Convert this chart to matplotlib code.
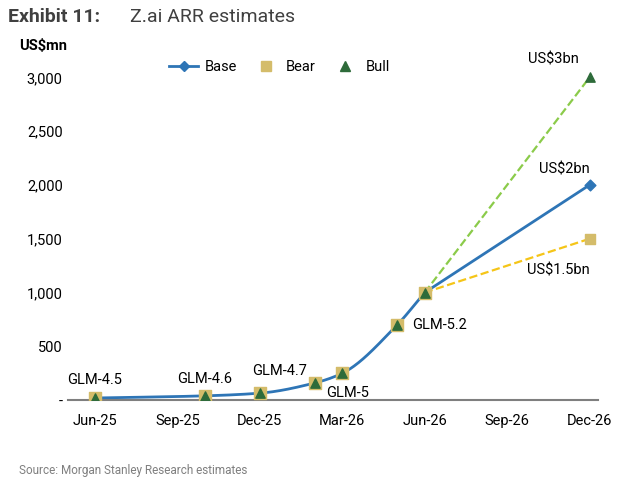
import numpy as np
import matplotlib
matplotlib.use("Agg")
import matplotlib.pyplot as plt
from matplotlib.lines import Line2D

plt.rcParams['font.family'] = ['Roboto', 'DejaVu Sans']

months = [0, 4, 6, 8, 9, 11, 12]   # months since Jun-25
hist = [20, 40, 65, 160, 250, 700, 1000]
labels = ["GLM-4.5", "GLM-4.6", "GLM-4.7", "", "GLM-5", "GLM-5.2", ""]
end_month = 18
base_end, bear_end, bull_end = 2000, 1500, 3000
tick_pos = [0, 3, 6, 9, 12, 15, 18]
tick_labels = ["Jun-25", "Sep-25", "Dec-25", "Mar-26", "Jun-26", "Sep-26", "Dec-26"]

def pchip(x, y, xs):
    x = np.asarray(x, float); y = np.asarray(y, float)
    h = np.diff(x); d = np.diff(y) / h
    m = np.zeros_like(y)
    for k in range(1, len(x) - 1):
        if d[k-1] * d[k] > 0:
            w1 = 2*h[k] + h[k-1]; w2 = h[k] + 2*h[k-1]
            m[k] = (w1 + w2) / (w1/d[k-1] + w2/d[k])
    m[0] = d[0]; m[-1] = d[-1]
    out = np.empty_like(xs)
    for i, xv in enumerate(xs):
        k = min(np.searchsorted(x, xv, side='right') - 1, len(x) - 2)
        t = (xv - x[k]) / h[k]
        h00 = 2*t**3 - 3*t**2 + 1; h10 = t**3 - 2*t**2 + t
        h01 = -2*t**3 + 3*t**2; h11 = t**3 - t**2
        out[i] = h00*y[k] + h10*h[k]*m[k] + h01*y[k+1] + h11*h[k]*m[k+1]
    return out

fig, ax = plt.subplots(figsize=(6.4, 4.94), dpi=100)
fig.subplots_adjust(left=0.1055, right=0.934, top=0.865, bottom=0.19)

blue = "#2E75B6"; tan = "#D4BC6A"; green = "#2E6B3A"
xs = np.linspace(0, 12, 300)
ax.plot(xs, pchip(months, hist, xs), color=blue, lw=2, zorder=2)
ax.plot([12, end_month], [hist[-1], base_end], color=blue, lw=2, zorder=2)
ax.plot([12, end_month], [hist[-1], bear_end], color="#F5C518", lw=1.6, ls="--", zorder=1)
ax.plot([12, end_month], [hist[-1], bull_end], color="#8BCB4A", lw=1.6, ls="--", zorder=1)

ax.scatter(months, hist, marker='s', s=70, color=tan, zorder=3)
ax.scatter(months, hist, marker='^', s=45, color=green, zorder=4)
ax.scatter([end_month], [base_end], marker='D', s=30, color=blue, zorder=4)
ax.scatter([end_month], [bear_end], marker='s', s=55, color=tan, zorder=4)
ax.scatter([end_month], [bull_end], marker='^', s=45, color=green, zorder=4)

offs = {"GLM-4.5": (0, 13, 'center'), "GLM-4.6": (0, 12, 'center'), "GLM-4.7": (0.7, 16, 'center'),
        "GLM-5": (0.2, -14, 'center'), "GLM-5.2": (0.55, 0, 'left')}
for mx, v, lab in zip(months, hist, labels):
    if lab:
        dx, dy, ha = offs[lab]
        ax.annotate(lab, (mx + dx, v), xytext=(0, dy), textcoords='offset points',
                    ha=ha, va='center', fontsize=10.5)
ax.annotate("US$3bn", (end_month, bull_end), xytext=(-8, 8), textcoords='offset points',
            ha='right', va='bottom', fontsize=10.5)
ax.annotate("US$2bn", (end_month, base_end), xytext=(0, 6), textcoords='offset points',
            ha='right', va='bottom', fontsize=10.5)
ax.annotate("US$1.5bn", (end_month, bear_end), xytext=(0, -18), textcoords='offset points',
            ha='right', va='top', fontsize=10.5)

ax.set_xlim(-1, 18.3)
ax.set_ylim(0, 3100)
ax.set_yticks([0, 500, 1000, 1500, 2000, 2500, 3000])
ax.set_yticklabels(["-", "500", "1,000", "1,500", "2,000", "2,500", "3,000"])
ax.set_xticks(tick_pos)
ax.set_xticklabels(tick_labels)
ax.tick_params(length=0, labelsize=10.5)
ax.tick_params(axis='x', pad=10)
for s in ["top", "right", "left"]:
    ax.spines[s].set_visible(False)
ax.spines["bottom"].set_color("#7F7F7F")
ax.spines["bottom"].set_linewidth(1.5)

h = [Line2D([], [], color=blue, marker='D', ms=5, lw=2),
     Line2D([], [], color=tan, marker='s', ms=7, lw=0),
     Line2D([], [], color=green, marker='^', ms=7, lw=0)]
ax.legend(h, ["Base", "Bear", "Bull"], loc='center', bbox_to_anchor=(0.4, 1.0),
          ncol=3, frameon=False, fontsize=10.5, handlelength=2.0, columnspacing=1.0,
          handletextpad=0.4)

fig.text(0.03, 0.898, "US$mn", fontsize=10.5, fontweight='bold', ha='left')
fig.text(0.012, 0.955, "Exhibit 11:", fontsize=14, fontweight='bold', color='#404040')
fig.text(0.203, 0.955, "Z.ai ARR estimates", fontsize=14, color='#404040')
fig.text(0.03, 0.04, "Source: Morgan Stanley Research estimates", fontsize=8.5, color='#7F7F7F')

fig.savefig("out.png", dpi=100)
